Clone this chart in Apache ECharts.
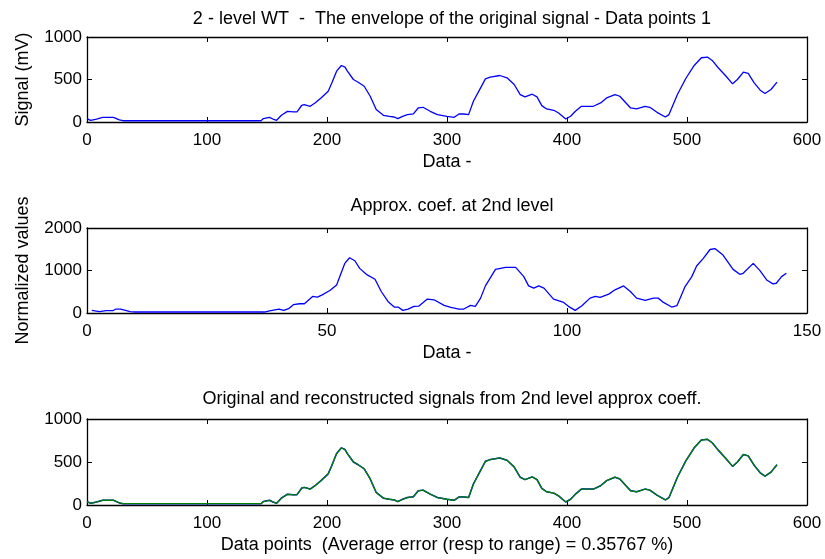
<!DOCTYPE html>
<html><head><meta charset="utf-8">
<script src="https://cdn.jsdelivr.net/npm/echarts@6/dist/echarts.min.js"></script>
<style>html,body{margin:0;padding:0;background:#fff}#c{width:825px;height:559px}</style>
</head><body><div id="c"></div>
<script>
// Panel 1 & 3: original signal envelope (index, mV)
var sigIdx = [0,3,8,13,22,27,30,60,100,145,147,152,155,158,162,167,172,175,179,181,186,190,195,201,204,208,212,215,217,222,226,231,236,241,247,252,256,259,263,267,272,276,280,286,292,300,306,310,314,318,322,328,332,336,344,350,356,361,365,371,375,379,383,389,393,399,403,407,412,422,428,433,440,444,453,458,465,469,475,482,485,492,499,506,512,517,521,526,532,538,542,547,551,556,561,565,570,575];
var sigVal = [40,20,35,55,55,24,15,15,15,15,40,55,35,20,80,125,118,120,197,205,185,224,283,362,460,598,665,645,598,500,468,421,303,146,79,67,59,39,67,87,95,165,173,126,87,67,55,94,94,87,244,402,508,528,547,520,441,323,295,327,295,193,154,138,106,35,67,126,185,185,224,283,323,303,165,154,185,173,114,59,87,323,512,665,756,764,724,638,547,449,500,587,571,461,374,335,382,469];
// Reconstructed signal (overlaps the original almost exactly)
var recVal = [40,20,35,55,55,24,15,15,15,15,40,55,35,20,80,125,118,120,197,205,185,224,283,362,460,598,665,645,598,500,468,421,303,146,79,67,59,39,67,87,95,165,173,126,87,67,55,94,94,87,244,402,508,528,547,520,441,323,295,327,295,193,154,138,106,35,67,126,185,185,224,283,323,303,165,154,185,173,114,59,87,323,512,665,756,764,724,638,547,449,500,587,571,461,374,335,382,469];
// Panel 2: approximation coefficients at 2nd level
var coefIdx = [1,2.6,4,5.4,6,7,9,10,37,38,40,41,42,43,44.3,45.3,46.4,47,48,49,50.6,52,53.7,54.7,55.8,56.8,58.2,60,61.3,62.7,64,64.8,65.8,66.9,68.1,69.1,70.9,72.3,74.4,75.8,77.5,78.5,79.9,80.9,82,83,85.1,87.2,89.3,91,92,93.1,94.1,95.2,97.2,99.3,100.3,101.7,103.1,104.8,105.9,106.9,108.7,110,111.8,113.2,114.5,116.3,118,119,120.1,121.8,122.9,124.6,126,127,128.4,129.8,130.8,132.5,134.6,136,136.7,138.8,140.2,141.6,142.9,143.6,144.7,145.7];
var coefVal = [62,31,54,54,93,90,31,23,23,50,93,62,101,195,218,218,327,389,373,428,529,661,1167,1300,1230,1050,910,794,506,272,140,140,62,93,156,160,327,311,179,132,93,93,179,156,350,638,1027,1074,1074,856,638,584,638,584,327,249,156,62,171,350,389,366,444,545,638,506,350,296,350,350,249,140,171,623,856,1105,1284,1494,1517,1362,1027,910,934,1167,996,778,685,700,856,934];
// Axis ticks
var xTicks1 = [0,100,200,300,400,500,600];
var yTicks1 = [0,500,1000];
var xTicks2 = [0,50,100,150];
var yTicks2 = [0,1000,2000];

function pairs(xs, ys){ return xs.map(function(x,i){return [x, ys[i]];}); }

var FONT = 'Liberation Sans, Arial, sans-serif';
var FS = 18;   // titles & axis names
var FT = 17;   // tick labels
var tops = [37, 228, 419];
var heights = [85, 85, 86];

var grids = tops.map(function(t,i){
  return {left:87, right:18, top:t, height:heights[i], outerBoundsMode:'none'};
});
function plain(v){ return String(v); }

function xAx(gi, ticks, name, isTop){
  return {
    type:'value', gridIndex:gi, position:isTop?'top':'bottom',
    min:ticks[0], max:ticks[ticks.length-1], interval:ticks[1]-ticks[0],
    axisLine:{show:true, onZero:false, lineStyle:{color:'#000', width:1.3}},
    axisTick:{show:true, inside:true, length:5, lineStyle:{color:'#000'}},
    axisLabel:{show:!isTop, color:'#000', fontSize:FT, fontFamily:FONT, margin:10, formatter:plain},
    splitLine:{show:false},
    name:isTop?'':name, nameLocation:'middle', nameGap:31,
    nameTextStyle:{color:'#000', fontSize:FS, fontFamily:FONT}
  };
}
function yAx(gi, ticks, name, isRight){
  return {
    type:'value', gridIndex:gi, position:isRight?'right':'left',
    min:ticks[0], max:ticks[ticks.length-1], interval:ticks[1]-ticks[0],
    axisLine:{show:true, onZero:false, lineStyle:{color:'#000', width:1.3}},
    axisTick:{show:true, inside:true, length:5, lineStyle:{color:'#000'}},
    axisLabel:{show:!isRight, color:'#000', fontSize:FT, fontFamily:FONT, margin:5, formatter:plain},
    splitLine:{show:false},
    name:isRight?'':name, nameLocation:'middle', nameRotate:90, nameGap:55,
    nameTextStyle:{color:'#000', fontSize:FS, fontFamily:FONT}
  };
}

var option = {
  animation:false,
  backgroundColor:'#fff',
  title:[
    {text:'2 - level WT  -  The envelope of the original signal - Data points 1', left:447, top:5, textAlign:'center'},
    {text:'Approx. coef. at 2nd level', left:447, top:192, textAlign:'center'},
    {text:'Original and reconstructed signals from 2nd level approx coeff.', left:447, top:385, textAlign:'center'}
  ].map(function(t){ t.textStyle={color:'#000', fontSize:FS, fontWeight:'normal', fontFamily:FONT}; return t; }),
  grid:grids,
  xAxis:[
    xAx(0,xTicks1,'Data -',false), xAx(0,xTicks1,'',true),
    xAx(1,xTicks2,'Data -',false), xAx(1,xTicks2,'',true),
    xAx(2,xTicks1,'Data points  (Average error (resp to range) = 0.35767 %)',false), xAx(2,xTicks1,'',true)
  ],
  yAxis:[
    yAx(0,yTicks1,'Signal (mV)',false), yAx(0,yTicks1,'',true),
    yAx(1,yTicks2,'Normalized values',false), yAx(1,yTicks2,'',true),
    yAx(2,yTicks1,'',false), yAx(2,yTicks1,'',true)
  ],
  series:[
    {type:'line', xAxisIndex:0, yAxisIndex:0, data:pairs(sigIdx,sigVal), showSymbol:false, lineStyle:{color:'#0000ff', width:1.3}},
    {type:'line', xAxisIndex:2, yAxisIndex:2, data:pairs(coefIdx,coefVal), showSymbol:false, lineStyle:{color:'#0000ff', width:1.3}},
    {type:'line', xAxisIndex:4, yAxisIndex:4, data:pairs(sigIdx,sigVal), showSymbol:false, lineStyle:{color:'#0000ff', width:1.5}},
    {type:'line', xAxisIndex:4, yAxisIndex:4, data:pairs(sigIdx,recVal), showSymbol:false, lineStyle:{color:'#008000', width:1.3}}
  ]
};
var chart = echarts.init(document.getElementById('c'), null, {renderer:'canvas'});
chart.setOption(option);
</script>
</body></html>
